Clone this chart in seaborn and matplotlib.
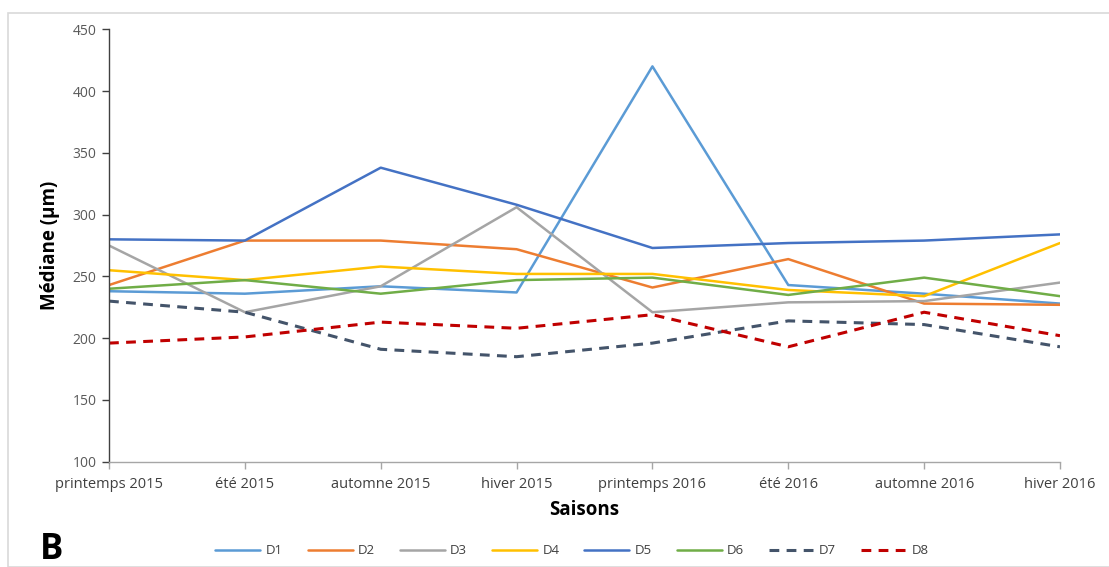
import matplotlib
matplotlib.use("Agg")
import matplotlib.pyplot as plt
from matplotlib.patches import Rectangle
import pandas as pd
import seaborn as sns

saisons = ["printemps 2015", "été 2015", "automne 2015", "hiver 2015",
           "printemps 2016", "été 2016", "automne 2016", "hiver 2016"]

D1 = [238, 236, 242, 237, 420, 243, 236, 228]
D2 = [243, 279, 279, 272, 241, 264, 228, 227]
D3 = [275, 221, 242, 306, 221, 229, 230, 245]
D4 = [255, 247, 258, 252, 252, 239, 234, 277]
D5 = [280, 279, 338, 308, 273, 277, 279, 284]
D6 = [240, 247, 236, 247, 249, 235, 249, 234]
D7 = [230, 221, 191, 185, 196, 214, 211, 193]
D8 = [196, 201, 213, 208, 219, 193, 221, 202]

series = {"D1": D1, "D2": D2, "D3": D3, "D4": D4,
          "D5": D5, "D6": D6, "D7": D7, "D8": D8}

rows = []
for name, vals in series.items():
    for i, (s, v) in enumerate(zip(saisons, vals)):
        rows.append({"pos": i, "Saison": s, "Station": name, "Médiane": v})
df = pd.DataFrame(rows)

palette = {"D1": "#5B9BD5", "D2": "#ED7D31", "D3": "#A5A5A5", "D4": "#FFC000",
           "D5": "#4472C4", "D6": "#70AD47", "D7": "#44546A", "D8": "#C00000"}
dashed = {"D7", "D8"}
widths = {k: (2.2 if k in dashed else 1.8) for k in series}

sns.set_theme(style="white")
plt.rcParams["font.family"] = ["Open Sans", "DejaVu Sans"]

fig = plt.figure(figsize=(11.09, 5.67), dpi=100)
ax = fig.add_axes([0.0983, 0.1857, 0.8575, 0.7626])

# outer chart frame
fig.patches.append(Rectangle((8 / 1109, 0), 1.0, 1 - 13 / 567,
                             transform=fig.transFigure, fill=False,
                             edgecolor="#D9D9D9", linewidth=1.2, zorder=0))

for name in series:
    sub = df[df["Station"] == name]
    sns.lineplot(data=sub, x="pos", y="Médiane", color=palette[name],
                 linewidth=widths[name], ax=ax, label=name,
                 linestyle="--" if name in dashed else "-")
for line in ax.get_lines():
    if line.get_linestyle() == "--":
        line.set_dashes((3.2, 2.4))

ax.set_xlim(0, 7)
ax.set_ylim(100, 450)
ax.set_yticks(range(100, 451, 50))
ax.set_xticks(range(len(saisons)))
ax.set_xticklabels(saisons)

for side in ("top", "right"):
    ax.spines[side].set_visible(False)
ax.spines["left"].set_color("#404040")
ax.spines["bottom"].set_color("#A6A6A6")
ax.spines["left"].set_linewidth(1.0)
ax.spines["bottom"].set_linewidth(1.0)
ax.tick_params(axis="y", which="both", left=True, length=5, width=1,
               color="#404040", labelsize=10, labelcolor="#595959", pad=4)
ax.tick_params(axis="x", which="both", bottom=True, length=5, width=1,
               color="#A6A6A6", labelsize=10.5, labelcolor="#404040", pad=6)

ax.set_xlabel("Saisons", fontsize=13.5, fontweight="bold", color="black", labelpad=6)
ax.set_ylabel("Médiane (µm)", fontsize=13.5, fontweight="bold", color="black", labelpad=9)

handles, labels = ax.get_legend_handles_labels()
ax.legend(handles, labels, loc="center", bbox_to_anchor=(572 / 1109, 1 - 551 / 567),
          bbox_transform=fig.transFigure, ncol=8, frameon=False, fontsize=9.5,
          handlelength=3.4, columnspacing=1.9, handletextpad=0.4,
          labelcolor="#404040")

fig.text(40 / 1109, 1 - 550 / 567, "B", fontsize=25, fontweight="bold",
         ha="left", va="center", color="black")

fig.savefig("out.png", dpi=100, facecolor="white")
